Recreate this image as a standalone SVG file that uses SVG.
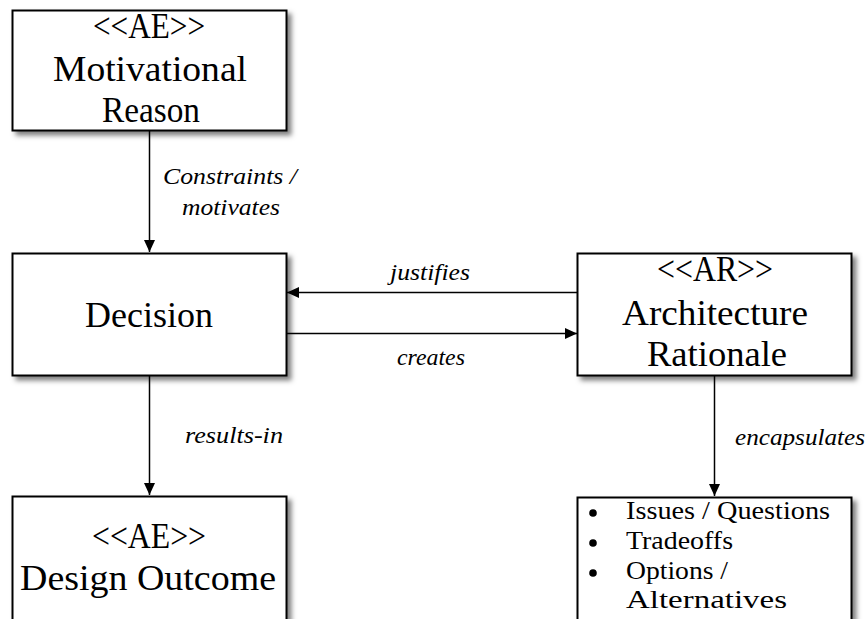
<svg xmlns="http://www.w3.org/2000/svg" width="868" height="619" viewBox="0 0 868 619">
  <style>
    .box { fill: #ffffff; stroke: #000000; stroke-width: 2; filter: url(#shadow); }
    .title { font-family: "Liberation Serif", "Times New Roman", serif; font-size: 35px; fill: #000000; text-anchor: middle; }
    .label { font-family: "Liberation Serif", "Times New Roman", serif; font-size: 24px; font-style: italic; fill: #000000; text-anchor: middle; }
    .item { font-family: "Liberation Serif", "Times New Roman", serif; font-size: 25px; fill: #000000; }
    .edge { fill: none; stroke: #000000; stroke-width: 1.5; marker-end: url(#arrow); }
  </style>
  <defs>
    <filter id="shadow" x="-10%" y="-10%" width="125%" height="130%">
      <feDropShadow dx="4" dy="4" stdDeviation="2.5" flood-color="#000000" flood-opacity="0.5"/>
    </filter>
    <marker id="arrow" markerUnits="userSpaceOnUse" markerWidth="12" markerHeight="12" viewBox="0 0 12 12" refX="12" refY="6" orient="auto">
      <path d="M0,0.5 L12,6 L0,11.5 Z" fill="#000000"/>
    </marker>
  </defs>

  <rect width="868" height="619" fill="#ffffff"/>

  <!-- connectors and their labels -->
  <g id="connectors">
    <line class="edge" x1="149.5" y1="131" x2="149.5" y2="252"/>
    <line class="edge" x1="577" y1="292.5" x2="287" y2="292.5"/>
    <line class="edge" x1="287" y1="333.5" x2="577" y2="333.5"/>
    <line class="edge" x1="149.5" y1="376" x2="149.5" y2="495"/>
    <line class="edge" x1="714.5" y1="376" x2="714.5" y2="496"/>
    <text class="label" x="230" y="184" textLength="134" lengthAdjust="spacingAndGlyphs">Constraints /</text>
    <text class="label" x="231" y="215" textLength="98" lengthAdjust="spacingAndGlyphs">motivates</text>
    <text class="label" x="430" y="280" textLength="80" lengthAdjust="spacingAndGlyphs">justifies</text>
    <text class="label" x="431" y="365" textLength="68" lengthAdjust="spacingAndGlyphs">creates</text>
    <text class="label" x="234" y="443" textLength="98" lengthAdjust="spacingAndGlyphs">results-in</text>
    <text class="label" x="800" y="445" textLength="130" lengthAdjust="spacingAndGlyphs">encapsulates</text>
  </g>

  <!-- Motivational Reason -->
  <g id="motivational-reason">
    <rect class="box" x="12.5" y="10.5" width="274" height="120"/>
    <text class="title" x="149" y="38" textLength="112" lengthAdjust="spacingAndGlyphs">&lt;&lt;AE&gt;&gt;</text>
    <text class="title" x="150" y="80.5" textLength="194" lengthAdjust="spacingAndGlyphs">Motivational</text>
    <text class="title" x="151" y="122" textLength="98" lengthAdjust="spacingAndGlyphs">Reason</text>
  </g>

  <!-- Decision -->
  <g id="decision">
    <rect class="box" x="12.5" y="253.5" width="274" height="122"/>
    <text class="title" x="149" y="327" textLength="128" lengthAdjust="spacingAndGlyphs">Decision</text>
  </g>

  <!-- Design Outcome -->
  <g id="design-outcome">
    <rect class="box" x="12.5" y="496.5" width="274" height="140"/>
    <text class="title" x="149" y="548" textLength="114" lengthAdjust="spacingAndGlyphs">&lt;&lt;AE&gt;&gt;</text>
    <text class="title" x="148" y="590" textLength="256" lengthAdjust="spacingAndGlyphs">Design Outcome</text>
  </g>

  <!-- Architecture Rationale -->
  <g id="architecture-rationale">
    <rect class="box" x="577.5" y="253.5" width="274" height="122"/>
    <text class="title" x="715" y="281" textLength="116" lengthAdjust="spacingAndGlyphs">&lt;&lt;AR&gt;&gt;</text>
    <text class="title" x="715" y="325" textLength="186" lengthAdjust="spacingAndGlyphs">Architecture</text>
    <text class="title" x="717" y="366" textLength="140" lengthAdjust="spacingAndGlyphs">Rationale</text>
  </g>

  <!-- Rationale contents -->
  <g id="rationale-contents">
    <rect class="box" x="577.5" y="497.5" width="274" height="140"/>
    <circle cx="593" cy="513" r="3.8" fill="#000000"/>
    <circle cx="593" cy="543" r="3.8" fill="#000000"/>
    <circle cx="593" cy="573" r="3.8" fill="#000000"/>
    <text class="item" x="626" y="519" textLength="204" lengthAdjust="spacingAndGlyphs">Issues / Questions</text>
    <text class="item" x="626" y="549" textLength="107" lengthAdjust="spacingAndGlyphs">Tradeoffs</text>
    <text class="item" x="626" y="579" textLength="102" lengthAdjust="spacingAndGlyphs">Options /</text>
    <text class="item" x="626" y="608" textLength="161" lengthAdjust="spacingAndGlyphs">Alternatives</text>
  </g>
</svg>
